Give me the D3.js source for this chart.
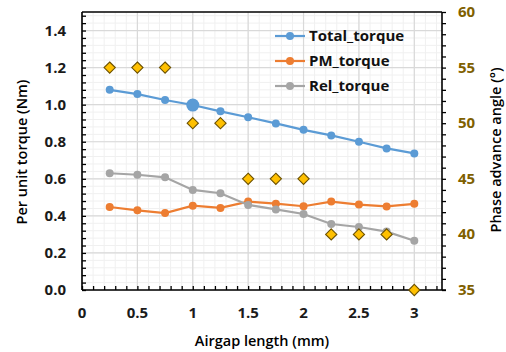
<!DOCTYPE html>
<html lang="en">
<head>
    <meta charset="UTF-8">
    <title>Torque vs airgap length</title>
    <style>
        body { margin: 0; background: #fff; }
        svg { display: block; font-family: 'Open Sans', 'Noto Sans', sans-serif; }
        .tick-label { font-size: 15px; font-weight: 700; }
        .axis-title { font-size: 14.5px; font-weight: 600; fill: #000; }
        .legend-text { font-size: 15px; font-weight: 700; fill: #111; }
    </style>
</head>
<body>
    <div id="chart"></div>

    <script src="https://d3js.org/d3.v7.min.js"></script>
    <script>
        // Airgap lengths (mm)
        const airgap = [0.25, 0.5, 0.75, 1, 1.25, 1.5, 1.75, 2, 2.25, 2.5, 2.75, 3];

        // Per unit torque series (Nm)
        const totalTorque = [1.08, 1.057, 1.025, 0.998, 0.964, 0.932, 0.899, 0.864, 0.834, 0.8, 0.764, 0.737];
        const pmTorque = [0.448, 0.43, 0.415, 0.455, 0.443, 0.477, 0.466, 0.452, 0.477, 0.461, 0.451, 0.465];
        const relTorque = [0.63, 0.622, 0.608, 0.54, 0.522, 0.459, 0.435, 0.41, 0.356, 0.34, 0.315, 0.266];

        // Phase advance angle (deg), right axis
        const phaseAdvance = [55, 55, 55, 50, 50, 45, 45, 45, 40, 40, 40, 35];

        // Axis ticks
        const xTicks = [0, 0.5, 1, 1.5, 2, 2.5, 3];
        const yTicks = [0, 0.2, 0.4, 0.6, 0.8, 1.0, 1.2, 1.4];
        const y2Ticks = [35, 40, 45, 50, 55, 60];

        const series = [
            { name: "Total_torque", values: totalTorque, color: "#5B9BD5" },
            { name: "PM_torque", values: pmTorque, color: "#ED7D31" },
            { name: "Rel_torque", values: relTorque, color: "#A5A5A5" }
        ];

        const W = 506, H = 352;
        const pLeft = 82, pRight = 442, pTop = 12, pBottom = 290;

        const svg = d3.select("#chart").append("svg")
            .attr("width", W)
            .attr("height", H);

        const x = d3.scaleLinear().domain([0, 3.25]).range([pLeft, pRight]);
        const y = d3.scaleLinear().domain([0, 1.5]).range([pBottom, pTop]);
        const y2 = d3.scaleLinear().domain([35, 60]).range([pBottom, pTop]);

        // minor grid
        const grid = svg.append("g");
        grid.selectAll("line.vminor")
            .data(d3.range(0, 3.2501, 0.1))
            .join("line")
            .attr("x1", d => x(d)).attr("x2", d => x(d))
            .attr("y1", pTop).attr("y2", pBottom)
            .attr("stroke", "#F0F0F0").attr("stroke-width", 1);
        grid.selectAll("line.hminor")
            .data(d3.range(0, 1.5001, 0.04))
            .join("line")
            .attr("x1", pLeft).attr("x2", pRight)
            .attr("y1", d => y(d)).attr("y2", d => y(d))
            .attr("stroke", "#F0F0F0").attr("stroke-width", 1);

        // major grid
        grid.selectAll("line.vmajor")
            .data(xTicks)
            .join("line")
            .attr("x1", d => x(d)).attr("x2", d => x(d))
            .attr("y1", pTop).attr("y2", pBottom)
            .attr("stroke", "#D9D9D9").attr("stroke-width", 1.2);
        grid.selectAll("line.hmajor")
            .data(yTicks)
            .join("line")
            .attr("x1", pLeft).attr("x2", pRight)
            .attr("y1", d => y(d)).attr("y2", d => y(d))
            .attr("stroke", "#D9D9D9").attr("stroke-width", 1.2);

        // axes (tick marks only)
        const xAxis = svg.append("g")
            .attr("transform", `translate(0,${pBottom})`)
            .call(d3.axisBottom(x).tickValues(d3.range(0, 3.2501, 0.1)).tickSize(-4).tickFormat(""));
        const yAxis = svg.append("g")
            .attr("transform", `translate(${pLeft},0)`)
            .call(d3.axisLeft(y).tickValues(d3.range(0, 1.5001, 0.04)).tickSize(-4).tickFormat(""));
        const y2Axis = svg.append("g")
            .attr("transform", `translate(${pRight},0)`)
            .call(d3.axisRight(y2).tickValues(d3.range(35, 60.01, 1)).tickSize(4).tickFormat(""));

        [xAxis, yAxis, y2Axis].forEach(a => {
            a.select(".domain").remove();
            a.selectAll(".tick line").attr("stroke", "#000").attr("stroke-width", 1.3);
        });

        // frame lines
        const frame = svg.append("g").attr("stroke", "#000").attr("stroke-width", 1.6);
        frame.append("line").attr("x1", pLeft).attr("x2", pRight + 4).attr("y1", pBottom).attr("y2", pBottom);
        frame.append("line").attr("x1", pLeft).attr("x2", pRight).attr("y1", pTop).attr("y2", pTop);
        frame.append("line").attr("x1", pLeft).attr("x2", pLeft).attr("y1", pTop).attr("y2", pBottom);
        frame.append("line").attr("x1", pRight).attr("x2", pRight).attr("y1", pTop).attr("y2", pBottom);

        // tick labels
        svg.append("g").selectAll("text")
            .data(xTicks)
            .join("text")
            .attr("class", "tick-label")
            .attr("x", d => x(d)).attr("y", 318)
            .attr("text-anchor", "middle")
            .attr("fill", "#1a1a1a")
            .text(d => d);
        svg.append("g").selectAll("text")
            .data(yTicks)
            .join("text")
            .attr("class", "tick-label")
            .attr("x", 66).attr("y", d => y(d) + 5)
            .attr("text-anchor", "end")
            .attr("fill", "#1a1a1a")
            .text(d => d3.format(".1f")(d));
        svg.append("g").selectAll("text")
            .data(y2Ticks)
            .join("text")
            .attr("class", "tick-label")
            .attr("x", 458).attr("y", d => y2(d) + 5)
            .attr("text-anchor", "start")
            .attr("fill", "#7F6000")
            .text(d => d);

        // axis titles
        svg.append("text").attr("class", "axis-title")
            .attr("x", 262).attr("y", 346)
            .attr("text-anchor", "middle")
            .text("Airgap length (mm)");
        svg.append("text").attr("class", "axis-title")
            .attr("transform", "translate(27,152) rotate(-90)")
            .attr("text-anchor", "middle")
            .text("Per unit torque (Nm)");
        svg.append("text").attr("class", "axis-title")
            .attr("transform", "translate(501,150) rotate(-90)")
            .attr("text-anchor", "middle")
            .text("Phase advance angle (°)");

        // torque lines
        const line = d3.line()
            .x((d, i) => x(airgap[i]))
            .y(d => y(d));

        series.forEach(s => {
            const g = svg.append("g");
            g.append("path")
                .attr("d", line(s.values))
                .attr("fill", "none")
                .attr("stroke", s.color)
                .attr("stroke-width", 2.2);
            g.selectAll("circle")
                .data(s.values)
                .join("circle")
                .attr("cx", (d, i) => x(airgap[i]))
                .attr("cy", d => y(d))
                .attr("r", (d, i) => (s.name === "Total_torque" && airgap[i] === 1) ? 6.5 : 4)
                .attr("fill", s.color);
        });

        // phase advance diamonds
        const diamond = d3.symbol().type(d3.symbolDiamond2).size(80);
        svg.append("g").selectAll("path")
            .data(phaseAdvance)
            .join("path")
            .attr("d", diamond)
            .attr("transform", (d, i) => `translate(${x(airgap[i])},${y2(d)})`)
            .attr("fill", "#FFC000")
            .attr("stroke", "#6B5000")
            .attr("stroke-width", 1.1);

        // legend
        const legend = svg.append("g");
        series.forEach((s, i) => {
            const ly = 36 + i * 25;
            legend.append("line")
                .attr("x1", 275).attr("x2", 305)
                .attr("y1", ly).attr("y2", ly)
                .attr("stroke", s.color).attr("stroke-width", 2.2);
            legend.append("circle")
                .attr("cx", 290).attr("cy", ly).attr("r", 4)
                .attr("fill", s.color);
            legend.append("text")
                .attr("class", "legend-text")
                .attr("x", 309).attr("y", ly + 5)
                .text(s.name);
        });
    </script>
</body>
</html>
